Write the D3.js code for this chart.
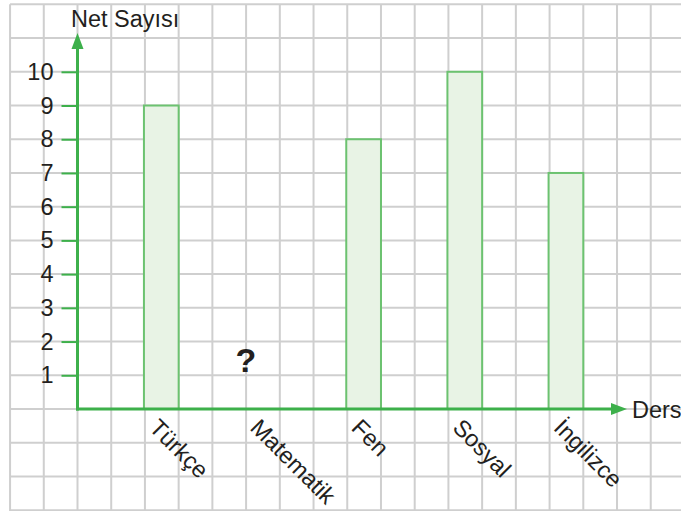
<!DOCTYPE html>
<html>
<head>
<meta charset="utf-8">
<script src="https://cdn.jsdelivr.net/npm/d3@7"></script>
<style>
  html, body { margin: 0; padding: 0; background: #fff; }
  svg { display: block; }
  text { font-family: "Liberation Sans", Arial, sans-serif; fill: #231f20; }
</style>
</head>
<body>
<script>
// ---- data ----
const categories = ["Türkçe", "Matematik", "Fen", "Sosyal", "İngilizce"];
const values = [9, null, 8, 10, 7];        // Matematik is unknown ("?")
const yTicks = [1, 2, 3, 4, 5, 6, 7, 8, 9, 10];
const yTitle = "Net Sayısı";
const xTitle = "Ders";
const unknownMark = "?";

// ---- layout ----
const W = 681, H = 511;
const cell = 33.72;
const ox = 77.5, oy = 409;       // axis origin
const green = "#3db04b";
const fs = 23.5;

const svg = d3.select("body").append("svg").attr("width", W).attr("height", H);

// y scale: one unit per grid cell
const y = d3.scaleLinear().domain([0, 10]).range([oy, oy - 10 * cell]);
// x band scale: band width = one cell, step = three cells
const x = d3.scaleBand().domain(categories)
  .range([ox + cell, ox + cell + 15 * cell])
  .paddingInner(2 / 3).paddingOuter(1 / 3);

// ---- grid ----
const grid = svg.append("g").attr("stroke", "#cfcfcf").attr("stroke-width", 2);
const gx0 = ox - 2 * cell, gy0 = oy - 12 * cell;
d3.range(0, 21).forEach(k => {
  const gx = gx0 + k * cell;
  grid.append("line").attr("x1", gx).attr("x2", gx).attr("y1", gy0).attr("y2", H);
});
d3.range(0, 16).forEach(k => {
  const gy = gy0 + k * cell;
  grid.append("line").attr("x1", gx0).attr("x2", W).attr("y1", gy).attr("y2", gy);
});

// ---- bars ----
const data = categories.map((c, i) => ({ c, v: values[i] }));
svg.append("g").selectAll("rect")
  .data(data.filter(d => d.v != null))
  .join("rect")
  .attr("x", d => x(d.c) - 1)
  .attr("y", d => y(d.v))
  .attr("width", x.bandwidth() + 1)
  .attr("height", d => y(0) - y(d.v))
  .attr("fill", "#e8f3e5")
  .attr("stroke", "#6cc270")
  .attr("stroke-width", 2);

// unknown value marker
data.filter(d => d.v == null).forEach(d => {
  svg.append("text")
    .attr("x", x(d.c) + x.bandwidth() / 2 - 17)
    .attr("y", y(1) - 3)
    .attr("text-anchor", "middle")
    .attr("font-size", 34).attr("font-weight", "bold")
    .text(unknownMark);
});

// ---- y axis ----
const yAxis = d3.axisLeft(y).tickValues(yTicks).tickSize(16).tickPadding(8);
const gy = svg.append("g").attr("transform", `translate(${ox},0)`).call(yAxis);
gy.select(".domain").remove();
gy.selectAll(".tick line").attr("stroke", green).attr("stroke-width", 2);
gy.selectAll(".tick text").attr("font-size", fs).attr("fill", "#231f20")
  .attr("font-family", "Liberation Sans, Arial, sans-serif");

// axis lines with arrows
svg.append("line").attr("x1", ox).attr("x2", ox).attr("y1", oy + 1.5).attr("y2", 46)
  .attr("stroke", green).attr("stroke-width", 3);
svg.append("path").attr("d", `M${ox},33 L${ox - 6},49 L${ox + 6},49 Z`).attr("fill", green);
svg.append("line").attr("x1", ox - 1.5).attr("x2", 614).attr("y1", oy).attr("y2", oy)
  .attr("stroke", green).attr("stroke-width", 3);
svg.append("path").attr("d", `M627,${oy} L611,${oy - 6} L611,${oy + 6} Z`).attr("fill", green);

// ---- x labels ----
svg.append("g").selectAll("text")
  .data(categories)
  .join("text")
  .attr("transform", d => `translate(${x(d) + 3},429) rotate(45)`)
  .attr("font-size", fs)
  .text(d => d);

// ---- titles ----
svg.append("text").attr("x", 71).attr("y", 27).attr("font-size", fs).text(yTitle);
svg.append("text").attr("x", 632).attr("y", 418).attr("font-size", fs).text(xTitle);
</script>
</body>
</html>
